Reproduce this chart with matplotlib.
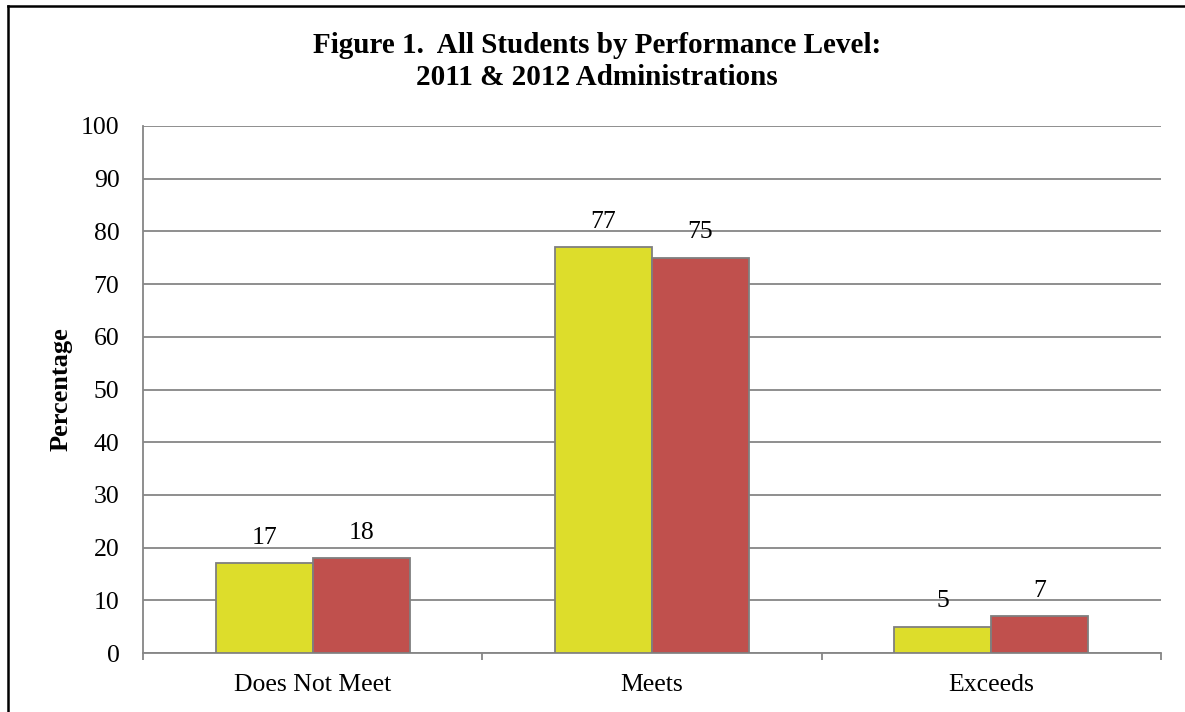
import matplotlib.pyplot as plt
from matplotlib.lines import Line2D
import numpy as np

plt.rcParams['font.family'] = ['Liberation Serif', 'DejaVu Serif']

levels = ['Does Not Meet', 'Meets', 'Exceeds']
admin_2011 = [17, 77, 5]
admin_2012 = [18, 75, 7]
yticks = [0, 10, 20, 30, 40, 50, 60, 70, 80, 90, 100]

grid_col = '#868686'

fig = plt.figure(figsize=(11.85, 7.12), dpi=100)
ax = fig.add_axes([143/1185, 1 - 653/712, (1161 - 143)/1185, (653 - 126)/712])

x = np.arange(len(levels)) + 0.5
w = 0.286
b1 = ax.bar(x - w/2, admin_2011, w, color='#DDDD2B', edgecolor='#7F7F7F', linewidth=1.3, zorder=3)
b2 = ax.bar(x + w/2, admin_2012, w, color='#C0504D', edgecolor='#7F7F7F', linewidth=1.3, zorder=3)

for bars, vals in [(b1, admin_2011), (b2, admin_2012)]:
    for r, v in zip(bars, vals):
        ax.annotate(str(v), (r.get_x() + r.get_width()/2, v), xytext=(0, 10.5),
                    textcoords='offset points', ha='center', va='bottom', fontsize=18.5)

ax.set_xlim(0, 3)
ax.set_ylim(0, 100)
ax.set_yticks(yticks)
ax.tick_params(axis='y', length=0, pad=17, labelsize=18.5)

# category labels sit between the boundary ticks
ax.set_xticks([0, 1, 2, 3])
ax.set_xticklabels([])
ax.set_xticks(x, minor=True)
ax.set_xticklabels(levels, minor=True)
ax.tick_params(axis='x', which='major', length=5, width=1.3, color=grid_col)
ax.tick_params(axis='x', which='minor', length=0, pad=15, labelsize=18.5)

ax.yaxis.grid(True, color=grid_col, linewidth=1.3, zorder=0)
ax.set_axisbelow(True)
for s in ['top', 'right']:
    ax.spines[s].set_visible(False)
for s in ['left', 'bottom']:
    ax.spines[s].set_color(grid_col)
    ax.spines[s].set_linewidth(1.3)

ax.set_ylabel('Percentage', fontsize=19, fontweight='bold', labelpad=6)

fig.text(597/1185, 1 - 53/712, 'Figure 1.  All Students by Performance Level:',
         ha='center', va='baseline', fontsize=21, fontweight='bold')
fig.text(597/1185, 1 - 85/712, '2011 & 2012 Administrations',
         ha='center', va='baseline', fontsize=21, fontweight='bold')

# outer frame (left and top edges)
fig.add_artist(Line2D([8/1185, 8/1185], [0, 1 - 6/712], transform=fig.transFigure,
                      color='black', linewidth=1.8))
fig.add_artist(Line2D([8/1185, 1], [1 - 6/712, 1 - 6/712], transform=fig.transFigure,
                      color='black', linewidth=1.8))

fig.savefig('out.png', dpi=100)
